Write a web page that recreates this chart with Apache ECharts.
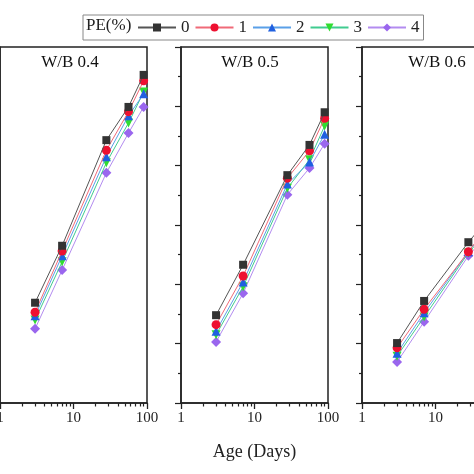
<!DOCTYPE html>
<html>
<head>
<meta charset="utf-8">
<script src="https://cdn.jsdelivr.net/npm/echarts@6/dist/echarts.min.js"></script>
<style>html,body{margin:0;padding:0;background:#fff;}#c{width:474px;height:474px;}</style>
</head>
<body>
<div id="c"></div>
<script>
const days = [3, 7, 28, 56, 90];
const panelTitles = ['W/B 0.4', 'W/B 0.5', 'W/B 0.6'];
const seriesNames = ['0', '1', '2', '3', '4'];
const xTickLabels = [1, 10, 100];
const xMinorTicks = [2, 3, 4, 5, 6, 7, 8, 9, 20, 30, 40, 50, 60, 70, 80, 90];
const wb04 = [
  [16.9, 26.5, 44.3, 49.9, 55.3],
  [15.3, 25.6, 42.6, 49.1, 54.3],
  [14.7, 24.8, 41.5, 48.4, 52.1],
  [14.0, 23.8, 40.5, 47.2, 52.4],
  [12.5, 22.4, 38.8, 45.5, 49.9]
];
const wb05 = [
  [14.8, 23.3, 38.4, 43.5, 49.0],
  [13.2, 21.4, 37.9, 42.5, 48.0],
  [12.1, 20.4, 36.9, 40.6, 45.3],
  [11.5, 19.6, 36.2, 41.0, 46.7],
  [10.3, 18.5, 35.1, 39.6, 43.7]
];
const wb06 = [
  [10.1, 17.2, 27.1, 31.5, 35.0],
  [9.3, 15.8, 25.5, 30.5, 34.0],
  [8.4, 15.2, 25.5, 30.0, 33.0],
  [7.9, 14.5, 25.3, 29.5, 33.5],
  [6.9, 13.7, 24.8, 29.0, 32.0]
];
const panelData = [wb04, wb05, wb06];

const serif = 'Liberation Serif';
const markerColors = ['#333333', '#ee1030', '#2060e0', '#30dd30', '#9a66ee'];
const lineColors = ['#555555', '#f06a78', '#5aa0e8', '#40cc90', '#b38cf0'];
const symbols = ['rect', 'circle', 'triangle', 'triangle', 'diamond'];
const symbolRotates = [0, 0, 0, 180, 0];
const symbolSizes = [8, 9, 9, 9, 10];

const gridLefts = [0, 181, 362];
const grids = [], xAxes = [], yAxes = [], series = [];
gridLefts.forEach((l, i) => {
  grids.push({left: l, top: 47, width: 147, height: 356, show: true, borderColor: '#222', borderWidth: 1.5,
    backgroundColor: 'transparent', containLabel: false, outerBoundsMode: 'none'});
  xAxes.push({
    type: 'log', logBase: 10, min: 1, max: 100, gridIndex: i,
    name: i === 1 ? 'Age (Days)' : '', nameLocation: 'middle', nameGap: 40,
    nameTextStyle: {fontFamily: serif, fontSize: 18, color: '#222'},
    axisLine: {show: true, lineStyle: {color: '#222', width: 1.5}},
    axisTick: {show: true, inside: false, length: 6, lineStyle: {color: '#222', width: 1.3}},
    axisLabel: {show: true, fontFamily: serif, fontSize: 15, color: '#222', margin: 8},
    splitLine: {show: false}
  });
  // minor ticks of the log axis, placed at log10 of 2..9, 20..90 on a log-space helper axis
  xAxes.push({
    type: 'value', min: 0, max: Math.log10(xTickLabels[2]), gridIndex: i, position: 'bottom',
    axisLine: {show: false},
    axisTick: {show: true, inside: false, length: 3.5, customValues: xMinorTicks.map(v => Math.log10(v)), lineStyle: {color: '#222', width: 1.2}},
    axisLabel: {show: false},
    splitLine: {show: false}
  });
  yAxes.push({
    type: 'value', min: 0, max: 60, interval: 10, gridIndex: i,
    axisLine: {show: true, lineStyle: {color: '#222', width: 1.5}},
    axisTick: {show: true, inside: false, length: 6, lineStyle: {color: '#222', width: 1.2}},
    minorTick: {show: true, splitNumber: 2, length: 3, lineStyle: {color: '#222', width: 1.2}},
    axisLabel: {show: false},
    splitLine: {show: false}
  });
  panelData[i].forEach((vals, k) => {
    series.push({
      type: 'line', name: seriesNames[k], xAxisIndex: i * 2, yAxisIndex: i,
      data: days.map((d, j) => [d, vals[j]]),
      symbol: symbols[k], symbolRotate: symbolRotates[k], symbolSize: symbolSizes[k],
      showAllSymbol: true,
      itemStyle: {color: markerColors[k]},
      lineStyle: {color: lineColors[k], width: 1},
      z: 10 - k
    });
  });
});

const chart = echarts.init(document.getElementById('c'), null, {renderer: 'canvas'});
chart.setOption({
  animation: false,
  backgroundColor: '#fff',
  grid: grids,
  xAxis: xAxes,
  yAxis: yAxes,
  legend: {
    data: seriesNames, left: 83, top: 15, orient: 'horizontal',
    padding: [4, 4, 4, 54], borderColor: '#888', borderWidth: 1,
    itemWidth: 38, itemHeight: 10, itemGap: 5,
    textStyle: {fontFamily: serif, fontSize: 17, color: '#222'}
  },
  graphic: [
    {type: 'text', left: 86, top: 17, style: {text: 'PE(%)', font: '17px "Liberation Serif"', fill: '#222'}},
    {type: 'text', x: 70, y: 63, style: {text: panelTitles[0], font: '17px "Liberation Serif"', fill: '#111', align: 'center', verticalAlign: 'middle'}},
    {type: 'text', x: 250, y: 63, style: {text: panelTitles[1], font: '17px "Liberation Serif"', fill: '#111', align: 'center', verticalAlign: 'middle'}},
    {type: 'text', x: 437, y: 63, style: {text: panelTitles[2], font: '17px "Liberation Serif"', fill: '#111', align: 'center', verticalAlign: 'middle'}}
  ],
  series: series
});
</script>
</body>
</html>
